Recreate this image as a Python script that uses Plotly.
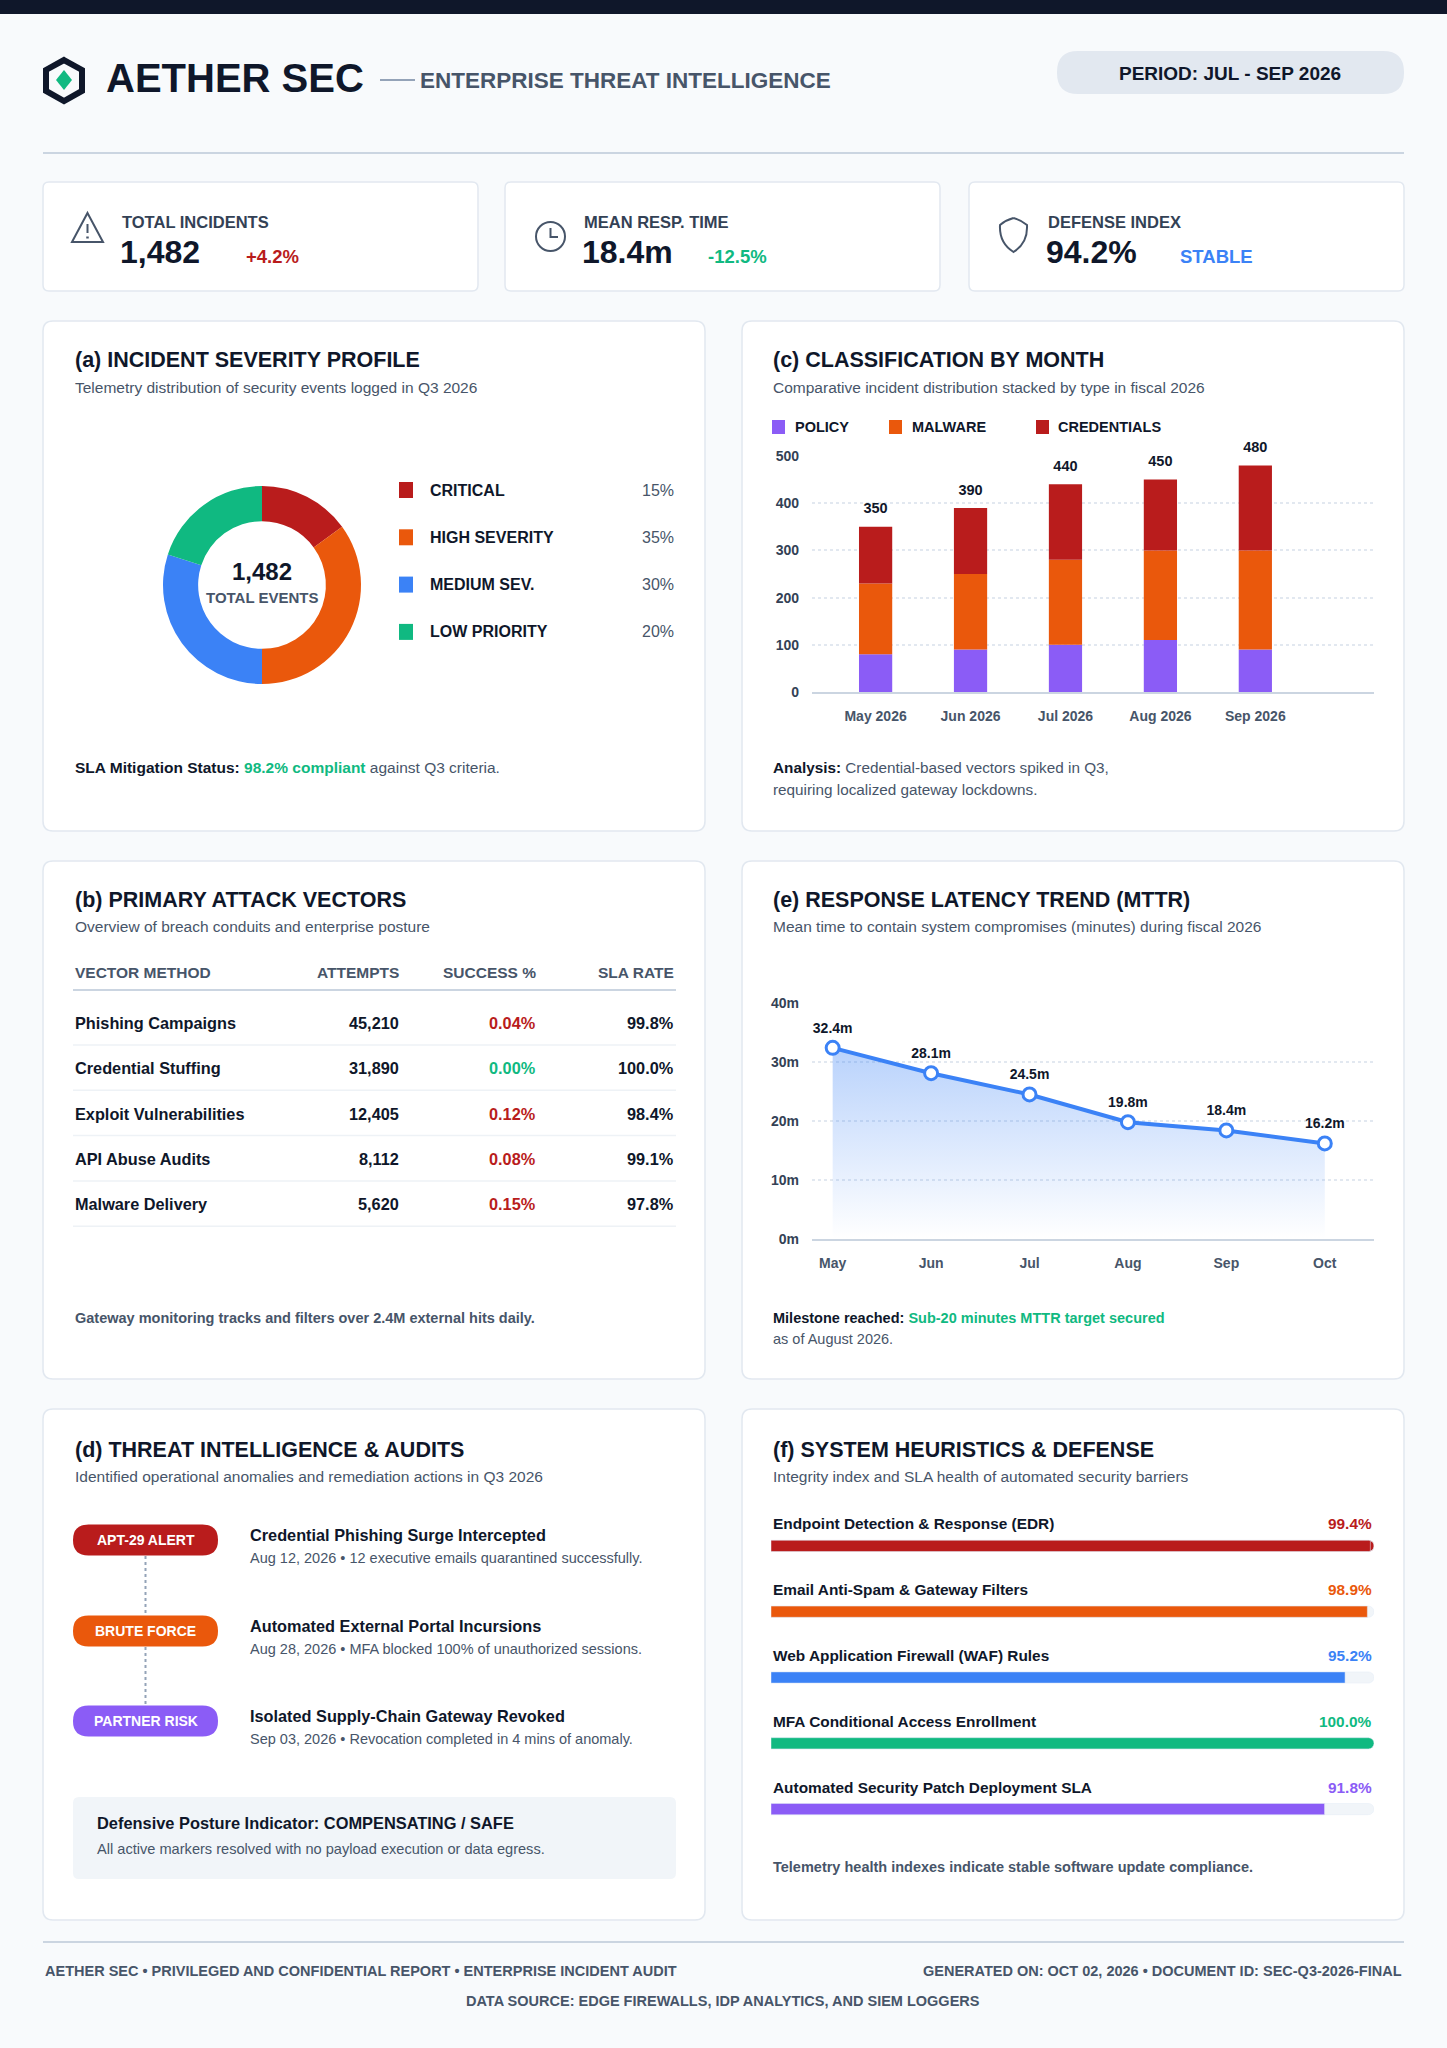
import plotly.graph_objects as go

W, H = 1447, 2048
FONT = "Liberation Sans, Arial, Helvetica, sans-serif"
INK = "#0f172a"
MUTED = "#475569"
RED, ORANGE, BLUE, GREEN, PURPLE = "#b91c1c", "#ea580c", "#3b82f6", "#10b981", "#8b5cf6"

# KPI strip
kpi_labels = ["TOTAL INCIDENTS", "MEAN RESP. TIME", "DEFENSE INDEX"]
kpi_values = ["1,482", "18.4m", "94.2%"]
kpi_deltas = ["+4.2%", "-12.5%", "STABLE"]

# (a) severity donut
severity_labels = ["CRITICAL", "HIGH SEVERITY", "MEDIUM SEV.", "LOW PRIORITY"]
severity_share = [15, 35, 30, 20]
total_events = "1,482"

# (c) classification by month
months = ["May 2026", "Jun 2026", "Jul 2026", "Aug 2026", "Sep 2026"]
policy = [80, 90, 100, 110, 90]
malware = [150, 160, 180, 190, 210]
credentials = [120, 140, 160, 150, 180]

# (b) attack vectors
vector_names = ["Phishing Campaigns", "Credential Stuffing", "Exploit Vulnerabilities",
                "API Abuse Audits", "Malware Delivery"]
attempts = [45210, 31890, 12405, 8112, 5620]
success_pct = [0.04, 0.00, 0.12, 0.08, 0.15]
sla_rate = [99.8, 100.0, 98.4, 99.1, 97.8]

# (e) MTTR trend
mttr_months = ["May", "Jun", "Jul", "Aug", "Sep", "Oct"]
mttr = [32.4, 28.1, 24.5, 19.8, 18.4, 16.2]

# (d) audit timeline
event_tags = ["APT-29 ALERT", "BRUTE FORCE", "PARTNER RISK"]
event_titles = ["Credential Phishing Surge Intercepted", "Automated External Portal Incursions",
                "Isolated Supply-Chain Gateway Revoked"]
event_notes = ["Aug 12, 2026 • 12 executive emails quarantined successfully.",
               "Aug 28, 2026 • MFA blocked 100% of unauthorized sessions.",
               "Sep 03, 2026 • Revocation completed in 4 mins of anomaly."]

# (f) defense heuristics
defense_names = ["Endpoint Detection & Response (EDR)", "Email Anti-Spam & Gateway Filters",
                 "Web Application Firewall (WAF) Rules", "MFA Conditional Access Enrollment",
                 "Automated Security Patch Deployment SLA"]
defense_scores = [99.4, 98.9, 95.2, 100.0, 91.8]

sev_colors = [RED, ORANGE, BLUE, GREEN]
class_colors = [PURPLE, ORANGE, RED]
event_colors = [RED, ORANGE, PURPLE]
defense_colors = [RED, ORANGE, BLUE, GREEN, PURPLE]


def fx(x):
    return x / W


def fy(y):
    return 1 - y / H


shapes, notes = [], []


def text(x, y, s, size=14, color=INK, bold=False, anchor="left"):
    notes.append(dict(x=fx(x), y=fy(y), xref="paper", yref="paper", text=s, showarrow=False,
                      xanchor=anchor, yanchor="middle",
                      font=dict(family=FONT, size=size, color=color, weight=700 if bold else 400)))


def rounded(x0, y0, x1, y1, r, fill, line=None, lw=1.5):
    P = lambda x, y: f"{fx(x):.5f},{fy(y):.5f}"
    d = (f"M{P(x0 + r, y0)} L{P(x1 - r, y0)} Q{P(x1, y0)} {P(x1, y0 + r)} L{P(x1, y1 - r)} "
         f"Q{P(x1, y1)} {P(x1 - r, y1)} L{P(x0 + r, y1)} Q{P(x0, y1)} {P(x0, y1 - r)} "
         f"L{P(x0, y0 + r)} Q{P(x0, y0)} {P(x0 + r, y0)} Z")
    shapes.append(dict(type="path", path=d, xref="paper", yref="paper", fillcolor=fill, layer="below",
                       line=dict(color=line or fill, width=lw if line else 0)))


def seg(x0, y0, x1, y1, color, w=1.0, dash="solid", layer="below"):
    shapes.append(dict(type="line", xref="paper", yref="paper", x0=fx(x0), x1=fx(x1), y0=fy(y0),
                       y1=fy(y1), line=dict(color=color, width=w, dash=dash), layer=layer))


def outline(pts, color=MUTED, w=2, fill="rgba(0,0,0,0)", close=False):
    d = " ".join(f"{c}{fx(x):.5f},{fy(y):.5f}" for c, x, y in pts) + (" Z" if close else "")
    shapes.append(dict(type="path", path=d, xref="paper", yref="paper", fillcolor=fill,
                       line=dict(color=color, width=w)))


# ---------------- header
shapes.append(dict(type="rect", xref="paper", yref="paper", x0=0, x1=1, y0=fy(14), y1=1,
                   fillcolor=INK, line=dict(width=0)))
outline([("M", 64, 60), ("L", 82, 70), ("L", 82, 91), ("L", 64, 101), ("L", 46, 91), ("L", 46, 70)],
        color=INK, w=6, close=True)
outline([("M", 64, 70), ("L", 72, 80), ("L", 64, 90), ("L", 56, 80)], color=GREEN, w=0, fill=GREEN,
        close=True)
text(104, 78, "AETHER SEC", size=40, bold=True)
seg(380, 80, 415, 80, "#94a3b8", 2)
text(418, 80, "ENTERPRISE THREAT INTELLIGENCE", size=22.5, color=MUTED, bold=True)
rounded(1057, 51, 1404, 94, 21, "#e2e8f0")
text(1230, 73, "PERIOD: JUL - SEP 2026", size=19, bold=True, anchor="center")
seg(43, 153, 1404, 153, "#cbd5e1", 2)

# ---------------- KPI cards
kpi_x = [43, 505, 969]
delta_colors = [RED, GREEN, BLUE]
delta_dx = [124, 124, 132]
for i, x0 in enumerate(kpi_x):
    rounded(x0, 182, x0 + 435, 291, 6, "white", "#e2e8f0")
    tx = x0 + 77
    text(tx, 222, kpi_labels[i], size=16.5, color="#334155", bold=True)
    text(tx - 2, 252, kpi_values[i], size=32, bold=True)
    text(tx + delta_dx[i], 256, kpi_deltas[i], size=18.5, color=delta_colors[i], bold=True)
# warning triangle
outline([("M", 87.5, 213), ("L", 103, 242), ("L", 72, 242)], close=True)
seg(87.5, 224, 87.5, 233, MUTED, 2, layer="above")
seg(87.5, 236.5, 87.5, 238.5, MUTED, 2.5, layer="above")
# clock
shapes.append(dict(type="circle", xref="paper", yref="paper", x0=fx(536), x1=fx(565), y0=fy(251),
                   y1=fy(222), line=dict(color=MUTED, width=2)))
outline([("M", 550.5, 228), ("L", 550.5, 237), ("L", 558, 237)])
# shield
outline([("M", 1013.5, 218), ("Q", 1006, 220), ("", 1000, 225), ("Q", 999, 243), ("", 1013.5, 252),
         ("Q", 1028, 243), ("", 1027, 225), ("Q", 1021, 220), ("", 1013.5, 218)])

# ---------------- panel cards
for x0, x1 in [(43, 705), (742, 1404)]:
    for y0, y1 in [(321, 831), (861, 1379), (1409, 1920)]:
        rounded(x0, y0, x1, y1, 10, "white", "#e2e8f0")

TITLE, SUB = 21.5, 15.5

# ---------------- (a) severity
text(73, 360, "(a) INCIDENT SEVERITY PROFILE", size=TITLE, bold=True)
text(73, 387, "Telemetry distribution of security events logged in Q3 2026", size=SUB, color=MUTED)
for i, lab in enumerate(severity_labels):
    y = 490 + i * 47.3
    shapes.append(dict(type="rect", xref="paper", yref="paper", x0=fx(399), x1=fx(413),
                       y0=fy(y + 8), y1=fy(y - 8), fillcolor=sev_colors[i], line=dict(width=0)))
    text(428, y, lab, size=16, bold=True)
    text(676, y, f"{severity_share[i]}%", size=16, color=MUTED, anchor="right")
text(262, 571, f"<b>{total_events}</b>", size=24, anchor="center")
text(262, 597, "TOTAL EVENTS", size=15, color=MUTED, bold=True, anchor="center")
text(73, 767, "<b>SLA Mitigation Status:</b> <span style='color:#10b981'><b>98.2% compliant</b></span>"
     " <span style='color:#475569'>against Q3 criteria.</span>", size=15.5)

# ---------------- (c) classification
text(771, 360, "(c) CLASSIFICATION BY MONTH", size=TITLE, bold=True)
text(771, 387, "Comparative incident distribution stacked by type in fiscal 2026", size=SUB, color=MUTED)
for (sx, tx, lab, col) in zip([772, 889, 1036], [793, 910, 1056], ["POLICY", "MALWARE", "CREDENTIALS"],
                              class_colors):
    shapes.append(dict(type="rect", xref="paper", yref="paper", x0=fx(sx), x1=fx(sx + 13),
                       y0=fy(434), y1=fy(420), fillcolor=col, line=dict(width=0)))
    text(tx, 427, lab, size=14.5, bold=True)
text(771, 767, "<b>Analysis:</b> <span style='color:#475569'>Credential-based vectors spiked in Q3,</span>",
     size=15.3)
text(771, 789, "requiring localized gateway lockdowns.", size=15.3, color=MUTED)

# ---------------- (b) table
text(73, 900, "(b) PRIMARY ATTACK VECTORS", size=TITLE, bold=True)
text(73, 926, "Overview of breach conduits and enterprise posture", size=SUB, color=MUTED)
text(73, 972, "VECTOR METHOD", size=15.5, color=MUTED, bold=True)
text(401, 972, "ATTEMPTS", size=15.5, color=MUTED, bold=True, anchor="right")
text(538, 972, "SUCCESS %", size=15.5, color=MUTED, bold=True, anchor="right")
text(676, 972, "SLA RATE", size=15.5, color=MUTED, bold=True, anchor="right")
seg(73, 990, 676, 990, "#cbd5e1", 2)
for i, name in enumerate(vector_names):
    y = 1023 + i * 45.3
    text(73, y, name, size=16.3, bold=True)
    text(401, y, f"{attempts[i]:,}", size=16.3, bold=True, anchor="right")
    text(538, y, f"{success_pct[i]:.2f}%", size=16.3, color=GREEN if success_pct[i] == 0 else RED,
         bold=True, anchor="right")
    text(676, y, f"{sla_rate[i]:.1f}%", size=16.3, bold=True, anchor="right")
    seg(73, y + 22, 676, y + 22, "#eef2f6", 1.5)
text(73, 1318, "Gateway monitoring tracks and filters over 2.4M external hits daily.", size=14.5,
     color=MUTED, bold=True)

# ---------------- (e) MTTR
text(771, 900, "(e) RESPONSE LATENCY TREND (MTTR)", size=TITLE, bold=True)
text(771, 926, "Mean time to contain system compromises (minutes) during fiscal 2026", size=SUB,
     color=MUTED)
text(771, 1318, "<b>Milestone reached:</b> <span style='color:#10b981'><b>Sub-20 minutes MTTR target"
     " secured</b></span>", size=14.5)
text(771, 1339, "as of August 2026.", size=14.5, color=MUTED)

# ---------------- (d) timeline
text(73, 1450, "(d) THREAT INTELLIGENCE & AUDITS", size=TITLE, bold=True)
text(73, 1476, "Identified operational anomalies and remediation actions in Q3 2026", size=SUB,
     color=MUTED)
pill_y = [1540, 1631, 1721]
for i in range(len(event_tags)):
    y = pill_y[i]
    if i < len(event_tags) - 1:
        seg(145.5, y + 16, 145.5, pill_y[i + 1] - 16, "#94a3b8", 2, "dot")
    rounded(73, y - 15.5, 218, y + 15.5, 15.5, event_colors[i])
    text(145.5, y, event_tags[i], size=14, color="white", bold=True, anchor="center")
    text(248, y - 5, event_titles[i], size=16.3, bold=True)
    text(248, y + 18, event_notes[i], size=14.5, color=MUTED)
rounded(73, 1797, 676, 1879, 6, "#f1f5f9")
text(95, 1823, "Defensive Posture Indicator: COMPENSATING / SAFE", size=16.4, bold=True)
text(95, 1849, "All active markers resolved with no payload execution or data egress.", size=14.6,
     color=MUTED)

# ---------------- (f) defense
text(771, 1450, "(f) SYSTEM HEURISTICS & DEFENSE", size=TITLE, bold=True)
text(771, 1476, "Integrity index and SLA health of automated security barriers", size=SUB, color=MUTED)
text(771, 1867, "Telemetry health indexes indicate stable software update compliance.", size=14.5,
     color=MUTED, bold=True)
rows = list(range(len(defense_names)))
for i in rows:
    notes.append(dict(x=0, y=i, xref="x3", yref="y3", yshift=22, xanchor="left", yanchor="middle",
                      showarrow=False, text=defense_names[i],
                      font=dict(family=FONT, size=15.4, color=INK, weight=700)))
    notes.append(dict(x=100, y=i, xref="x3", yref="y3", yshift=22, xanchor="right", yanchor="middle",
                      showarrow=False, text=f"{defense_scores[i]:.1f}%",
                      font=dict(family=FONT, size=15.4, color=defense_colors[i], weight=700)))

# ---------------- footer
seg(43, 1942, 1404, 1942, "#cbd5e1", 2)
text(43, 1971, "AETHER SEC • PRIVILEGED AND CONFIDENTIAL REPORT • ENTERPRISE INCIDENT AUDIT", size=14.5,
     color=MUTED, bold=True)
text(1404, 1971, "GENERATED ON: OCT 02, 2026 • DOCUMENT ID: SEC-Q3-2026-FINAL", size=14.5, color=MUTED,
     bold=True, anchor="right")
text(723, 2001, "DATA SOURCE: EDGE FIREWALLS, IDP ANALYTICS, AND SIEM LOGGERS", size=14.5, color=MUTED,
     bold=True, anchor="center")

# ---------------- traces
fig = go.Figure()

fig.add_trace(go.Pie(labels=severity_labels, values=severity_share, hole=0.645, sort=False,
                     direction="clockwise", rotation=0, textinfo="none", showlegend=False,
                     marker=dict(colors=sev_colors, line=dict(width=0)),
                     domain=dict(x=[fx(163), fx(361)], y=[fy(684), fy(486)])))

bases = [[0] * len(months), policy, [p + m for p, m in zip(policy, malware)]]
for vals, base, col, name in zip([policy, malware, credentials], bases, class_colors,
                                 ["Policy", "Malware", "Credentials"]):
    fig.add_trace(go.Bar(x=months, y=vals, base=base, width=0.35, name=name, marker_color=col,
                         marker_line_width=0, showlegend=False, xaxis="x", yaxis="y"))
totals = [p + m + c for p, m, c in zip(policy, malware, credentials)]
fig.add_trace(go.Scatter(x=months, y=totals, mode="markers+text", text=[str(t) for t in totals],
                         textposition="top center", marker=dict(size=14, color="rgba(0,0,0,0)"),
                         textfont=dict(family=FONT, size=14.5, color=INK, weight=700),
                         cliponaxis=False, showlegend=False, hoverinfo="skip", xaxis="x", yaxis="y"))

fig.add_trace(go.Scatter(x=mttr_months, y=mttr, mode="lines+markers", fill="tozeroy",
                         fillgradient=dict(type="vertical", start=0, stop=max(mttr),
                                           colorscale=[[0, "rgba(59,130,246,0.0)"],
                                                       [1, "rgba(59,130,246,0.36)"]]),
                         line=dict(color=BLUE, width=4),
                         marker=dict(size=13, color="white", line=dict(color=BLUE, width=3)),
                         cliponaxis=False, showlegend=False, xaxis="x2", yaxis="y2"))
fig.add_trace(go.Scatter(x=mttr_months, y=mttr, mode="markers+text", text=[f"{v}m" for v in mttr],
                         textposition="top center", marker=dict(size=17, color="rgba(0,0,0,0)"),
                         textfont=dict(family=FONT, size=14, color=INK, weight=700),
                         cliponaxis=False, showlegend=False, hoverinfo="skip", xaxis="x2", yaxis="y2"))

fig.add_trace(go.Bar(y=rows, x=[100] * len(rows), orientation="h", width=0.17,
                     marker=dict(color="#f1f5f9", cornerradius="50%"), showlegend=False,
                     hoverinfo="skip", xaxis="x3", yaxis="y3"))
fig.add_trace(go.Bar(y=rows, x=defense_scores, orientation="h", width=0.17,
                     marker=dict(color=defense_colors, cornerradius="50%"), showlegend=False,
                     xaxis="x3", yaxis="y3"))

tick_font = dict(family=FONT, size=14, color=MUTED, weight=700)
ytick_font = dict(family=FONT, size=14, color="#334155", weight=700)
fig.update_layout(
    width=W, height=H, margin=dict(l=0, r=0, t=0, b=0, pad=0, autoexpand=False),
    paper_bgcolor="#f8fafc", plot_bgcolor="rgba(0,0,0,0)",
    barmode="overlay", showlegend=False,
    font=dict(family=FONT, color=INK),
    shapes=shapes, annotations=notes,
    xaxis=dict(domain=[fx(812), fx(1374)], anchor="y", type="category", range=[-0.67, 5.25],
               showgrid=False, zeroline=False, showline=True, linecolor="#cbd5e1", linewidth=2,
               ticks="", tickfont=tick_font, ticklabelstandoff=10, fixedrange=True),
    yaxis=dict(domain=[fy(692), fy(456)], anchor="x", range=[0, 500], dtick=100, showgrid=True,
               gridcolor="#e2e8f0", griddash="dot", gridwidth=1.5, zeroline=False, ticks="",
               tickfont=ytick_font, ticklabelstandoff=12, fixedrange=True),
    xaxis2=dict(domain=[fx(812), fx(1374)], anchor="y2", type="category", range=[-0.21, 5.5],
                showgrid=False, zeroline=False, showline=True, linecolor="#cbd5e1", linewidth=2,
                ticks="", tickfont=tick_font, ticklabelstandoff=10, fixedrange=True),
    yaxis2=dict(domain=[fy(1239), fy(1003)], anchor="x2", range=[0, 40], dtick=10, ticksuffix="m",
                showgrid=True, gridcolor="#e2e8f0", griddash="dot", gridwidth=1.5, zeroline=False,
                ticks="", tickfont=ytick_font, ticklabelstandoff=12, fixedrange=True),
    xaxis3=dict(domain=[fx(771), fx(1374)], anchor="y3", range=[0, 100], visible=False, fixedrange=True),
    yaxis3=dict(domain=[fy(1842), fy(1513)], anchor="x3", range=[4.5, -0.5], visible=False,
                fixedrange=True),
)

fig.write_html("out.html", config={"displayModeBar": False},
               post_script="document.documentElement.style.margin='0';"
                           "document.body.style.margin='0';document.body.style.overflow='hidden';")
